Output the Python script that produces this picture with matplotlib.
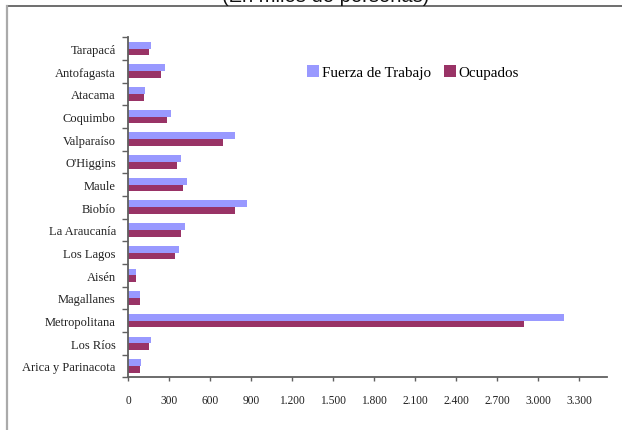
import matplotlib
matplotlib.use("Agg")
import matplotlib.pyplot as plt
from matplotlib.lines import Line2D
from matplotlib.ticker import FuncFormatter, FixedLocator
import numpy as np

regions = ["Tarapacá", "Antofagasta", "Atacama", "Coquimbo", "Valparaíso",
           "O'Higgins", "Maule", "Biobío", "La Araucanía", "Los Lagos",
           "Aisén", "Magallanes", "Metropolitana", "Los Ríos", "Arica y Parinacota"]
fuerza = [166, 269, 122, 312, 781, 386, 430, 869, 415, 371, 56, 86, 3189, 166, 93]
ocupados = [151, 239, 117, 283, 693, 356, 400, 781, 386, 342, 53, 83, 2897, 151, 89]
xticks = list(range(0, 3301, 300))

blue = "#9999FF"
purple = "#993366"
axcol = "#606060"

fig = plt.figure(figsize=(6.22, 4.31), dpi=100)
ax = fig.add_axes([128.3/622, 1-378.3/431, (606.7-128.3)/622, (378.3-38.3)/431])

n = len(regions)
y = np.arange(n)[::-1]  # Tarapacá on top
h = 0.3
ax.barh(y + h/2, fuerza, height=h, color=blue, label="Fuerza de Trabajo")
ax.barh(y - h/2, ocupados, height=h, color=purple, label="Ocupados")

ax.set_xlim(0, 3500)
ax.set_ylim(-0.5, n - 0.5)
ax.set_xticks(xticks)
ax.xaxis.set_major_formatter(FuncFormatter(lambda v, p: f"{int(v):,}".replace(",", ".")))
ax.set_yticks(y)
ax.set_yticklabels(regions)
ax.yaxis.set_minor_locator(FixedLocator(np.arange(-0.5, n, 1.0)))
ax.tick_params(axis="y", which="major", length=0, pad=9)
ax.tick_params(axis="y", which="minor", length=4, color=axcol, width=1)
ax.tick_params(axis="x", length=3, color=axcol, width=1, pad=9)

for lab in ax.get_yticklabels():
    lab.set_fontfamily("Liberation Serif")
    lab.set_fontsize(9)
    lab.set_color("#222222")
for lab in ax.get_xticklabels():
    lab.set_fontfamily("Liberation Serif")
    lab.set_fontsize(8.3)
    lab.set_color("#222222")

for s in ["top", "right"]:
    ax.spines[s].set_visible(False)
for s in ["left", "bottom"]:
    ax.spines[s].set_color(axcol)
    ax.spines[s].set_linewidth(1.3)

leg = ax.legend(loc="upper left", bbox_to_anchor=(0.362, 0.935), ncol=2, frameon=False,
                prop={"family": "Liberation Serif", "size": 10.8},
                handlelength=0.8, handleheight=0.8, handletextpad=0.15,
                columnspacing=0.9, borderaxespad=0)

# outer frame lines
fig.add_artist(Line2D([7/622, 1], [1-7/431, 1-7/431], color="#555555", lw=1.2))
fig.add_artist(Line2D([7/622, 7/622], [0, 1-7/431], color="#aaaaaa", lw=1.6))

fig.text(326/622, 1-1.5/431, "(En miles de personas)", ha="center", va="baseline",
         fontsize=14.5, family="Liberation Sans", color="#111111")

fig.savefig("out.png", dpi=100)
